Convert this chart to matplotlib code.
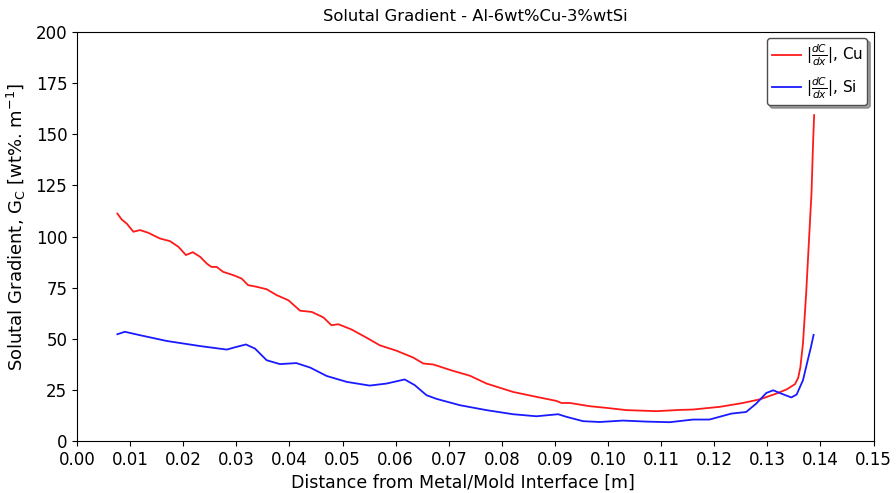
import matplotlib
matplotlib.use("Agg")
import matplotlib.pyplot as plt

# Distance from interface [m] and solutal gradient magnitudes [wt%/m]
x_cu = [0.00759, 0.0084, 0.00935, 0.0106, 0.01186, 0.0134, 0.0156, 0.0175, 0.0191, 0.0205,
        0.0218, 0.0232, 0.0244, 0.0253, 0.0263, 0.0275, 0.0294, 0.0310, 0.0322, 0.0338,
        0.0357, 0.0376, 0.0398, 0.0420, 0.0442, 0.0464, 0.0479, 0.0492, 0.0517, 0.0548,
        0.0570, 0.0602, 0.0633, 0.0652, 0.0671, 0.0708, 0.0740, 0.0771, 0.0821, 0.0865,
        0.0903, 0.0912, 0.0928, 0.0966, 0.0997, 0.1035, 0.1091, 0.1135, 0.1160, 0.1210,
        0.1254, 0.1286, 0.1317, 0.1336, 0.1352, 0.1358, 0.1362, 0.1367, 0.1373, 0.1378,
        0.1383, 0.1386, 0.1388]
g_cu = [111.3, 108.4, 106.4, 102.4, 103.2, 101.9, 99.1, 97.8, 95.0, 91.0,
        92.4, 90.1, 86.9, 85.2, 85.2, 82.8, 81.2, 79.5, 76.3, 75.5,
        74.3, 71.4, 68.9, 63.8, 63.2, 60.5, 56.7, 57.2, 54.6, 50.2,
        46.9, 44.2, 40.9, 38.0, 37.5, 34.4, 32.0, 28.2, 24.1, 21.7,
        19.7, 18.7, 18.7, 17.1, 16.3, 15.2, 14.7, 15.3, 15.5, 16.8,
        18.7, 20.5, 23.3, 25.3, 27.9, 31.0, 36.0, 47.8, 72.2, 96.7,
        121.0, 145.6, 159.4]

x_si = [0.00759, 0.0090, 0.0119, 0.0169, 0.0232, 0.0282, 0.0300, 0.0318, 0.0335, 0.0357,
        0.0382, 0.0413, 0.0439, 0.0470, 0.0508, 0.0551, 0.0583, 0.0617, 0.0636, 0.0658,
        0.0677, 0.0721, 0.0771, 0.0821, 0.0865, 0.0906, 0.0922, 0.0953, 0.0984, 0.1028,
        0.1072, 0.1116, 0.1160, 0.1191, 0.1232, 0.1260, 0.1279, 0.1298, 0.1311, 0.1326,
        0.1345, 0.1355, 0.1367, 0.1376, 0.1382, 0.1387]
g_si = [52.3, 53.5, 51.8, 49.0, 46.5, 44.8, 46.1, 47.3, 45.3, 39.6,
        37.7, 38.2, 36.0, 31.9, 29.0, 27.2, 28.2, 30.2, 27.4, 22.5,
        20.7, 17.6, 15.2, 13.2, 12.2, 13.2, 11.9, 9.8, 9.4, 10.1,
        9.6, 9.3, 10.6, 10.6, 13.5, 14.3, 18.4, 23.6, 24.9, 23.3,
        21.4, 22.8, 29.8, 39.6, 46.0, 52.0]

x_ticks = [0.00, 0.01, 0.02, 0.03, 0.04, 0.05, 0.06, 0.07, 0.08,
           0.09, 0.10, 0.11, 0.12, 0.13, 0.14, 0.15]
y_ticks = [0, 25, 50, 75, 100, 125, 150, 175, 200]

fig = plt.figure(figsize=(8.96, 4.93), dpi=100)
ax = fig.add_axes([0.086, 0.105, 0.889, 0.83])

ax.plot(x_cu, g_cu, color="#ff1a1a", lw=1.3, label=r"$|\frac{dC}{dx}|$, Cu")
ax.plot(x_si, g_si, color="#1a1aff", lw=1.3, label=r"$|\frac{dC}{dx}|$, Si")

ax.set_xlim(0, 0.15)
ax.set_ylim(0, 200)
ax.set_xticks(x_ticks)
ax.set_xticklabels([f"{t:.2f}" for t in x_ticks])
ax.set_yticks(y_ticks)
ax.tick_params(labelsize=12)

ax.set_title("Solutal Gradient - Al-6wt%Cu-3%wtSi", fontsize=11.8, pad=8)
ax.set_xlabel("Distance from Metal/Mold Interface [m]", fontsize=12.5)
ax.set_ylabel(r"Solutal Gradient, G$_\mathrm{C}$ [wt%. m$^{-1}$]", fontsize=13)
ax.xaxis.set_label_coords(0.484, -0.08)
ax.yaxis.set_label_coords(-0.062, 0.523)

leg = ax.legend(loc="upper right", fontsize=11, shadow=True, fancybox=True,
                framealpha=1, edgecolor="0.3", handletextpad=0.35,
                handlelength=1.9, borderpad=0.3, labelspacing=0.45,
                borderaxespad=0.4)

fig.savefig("out.png", dpi=100)
